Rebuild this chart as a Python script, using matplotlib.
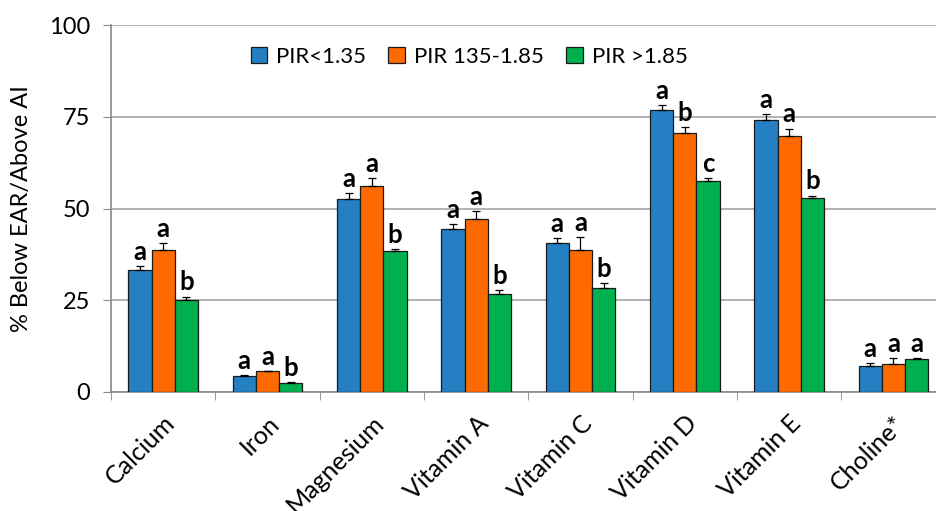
import numpy as np
import matplotlib
matplotlib.use("Agg")
import matplotlib.pyplot as plt

plt.rcParams['font.family'] = ['Lato', 'DejaVu Sans']

# data
nutrients = ["Calcium", "Iron", "Magnesium", "Vitamin A", "Vitamin C",
             "Vitamin D", "Vitamin E", "Choline*"]
series = ["PIR<1.35", "PIR 135-1.85", "PIR >1.85"]

low_pir = [33.3, 4.4, 52.6, 44.4, 40.5, 76.9, 74.2, 7.1]
mid_pir = [38.7, 5.6, 56.2, 47.2, 38.6, 70.6, 69.7, 7.7]
high_pir = [25.1, 2.5, 38.3, 26.8, 28.4, 57.4, 53.0, 8.9]

low_err = [1.1, 0.2, 1.6, 1.3, 1.4, 1.3, 1.6, 0.7]
mid_err = [1.8, 0.1, 2.0, 2.2, 3.7, 1.7, 2.1, 1.6]
high_err = [0.9, 0.1, 0.7, 1.0, 1.3, 1.0, 0.5, 0.3]

low_sig = ["a", "a", "a", "a", "a", "a", "a", "a"]
mid_sig = ["a", "a", "a", "a", "a", "b", "a", "a"]
high_sig = ["b", "b", "b", "b", "b", "c", "b", "a"]

colors = ["#2580C3", "#FF6A00", "#00B04F"]
values = [low_pir, mid_pir, high_pir]
errors = [low_err, mid_err, high_err]
sigs = [low_sig, mid_sig, high_sig]

fig = plt.figure(figsize=(9.36, 5.11), dpi=100)
# axes run a bit past the right edge, as in the cropped original
ax = fig.add_axes([0.1186, 0.2329, 0.8917, 0.718])

x = np.arange(len(nutrients))
w = 0.222
for i in range(3):
    pos = x + (i - 1) * w
    vals = np.array(values[i])
    errs = np.array(errors[i])
    ax.bar(pos, vals, w, color=colors[i], edgecolor="#1a1a1a", linewidth=0.9,
           label=series[i], zorder=3)
    ax.errorbar(pos, vals, yerr=[np.zeros_like(errs), errs], fmt="none",
                ecolor="black", elinewidth=0.9, capsize=3, capthick=0.9, zorder=4)
    for p, v, e, s in zip(pos, vals, errs, sigs[i]):
        ax.text(p, v + e + 0.6, s, ha="center", va="bottom",
                fontsize=18.5, fontweight="bold", zorder=5)

ax.set_xlim(-0.5, len(nutrients) - 0.5)
ax.set_ylim(0, 100)
ax.set_yticks([0, 25, 50, 75, 100])
ax.tick_params(axis="y", labelsize=17, length=6, pad=9, color="#888888",
               direction="out")
ax.set_xticks(x)
ax.set_xticklabels(nutrients, rotation=45, ha="right", va="top",
                   rotation_mode="anchor", fontsize=18)
ax.tick_params(axis="x", which="major", length=0, pad=14)
ax.set_xticks(np.arange(-0.5, len(nutrients)), minor=True)
ax.tick_params(axis="x", which="minor", length=6, color="#888888", direction="out")

ax.set_ylabel("% Below EAR/Above AI", fontsize=17, labelpad=12)
ax.yaxis.grid(True, color="#a6a6a6", linewidth=1.2, zorder=0)
ax.set_axisbelow(True)
for s in ["top", "right"]:
    ax.spines[s].set_visible(False)
for s in ["left", "bottom"]:
    ax.spines[s].set_color("#888888")
    ax.spines[s].set_linewidth(1.2)

ax.legend(loc="center", bbox_to_anchor=(0.429, 0.913), ncol=3, frameon=False,
          fontsize=16, handlelength=0.75, handleheight=0.75,
          handletextpad=0.4, columnspacing=1.0)

fig.savefig("out.png", dpi=100)
